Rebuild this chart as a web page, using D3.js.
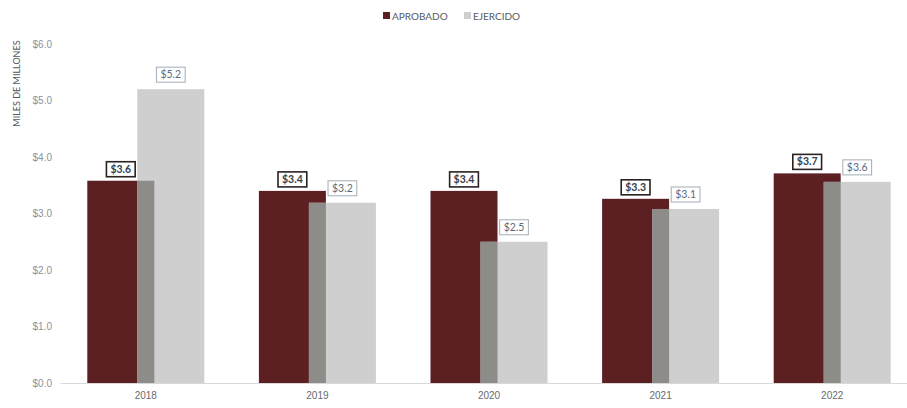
<!DOCTYPE html>
<html>
<head>
<meta charset="utf-8">
<script src="https://cdn.jsdelivr.net/npm/d3@7"></script>
<style>
  html, body { margin: 0; padding: 0; background: #ffffff; }
  svg { display: block; font-family: Lato, "Open Sans", "Liberation Sans", sans-serif; }
</style>
</head>
<body>
<svg id="chart" width="907" height="408"></svg>
<script>
// Presupuesto por año, miles de millones
const years = ["2018", "2019", "2020", "2021", "2022"];
const aprobado = [3.58, 3.40, 3.40, 3.26, 3.71];
const ejercido = [5.20, 3.19, 2.50, 3.08, 3.56];
const yTicks = [0, 1, 2, 3, 4, 5, 6];
const seriesNames = ["APROBADO", "EJERCIDO"];

const colAprobado = "#5c1f22";
const colEjercido = "#cfcfcf";
const colOverlap = "#8e8c89";

const svg = d3.select("#chart");
const W = 907, H = 408;

const x = d3.scaleBand().domain(years).range([60, 918]);
const y = d3.scaleLinear().domain([0, 6]).range([383, 44]);

const barW = 67, shift = 50;
const groupW = barW + shift;
const left = d => x(d) + (x.bandwidth() - groupW) / 2;

const fmt = v => "$" + v.toFixed(1);

// Y axis labels
const yAxis = d3.axisLeft(y).tickValues(yTicks).tickFormat(d => "$" + d.toFixed(1)).tickSize(0).tickPadding(0);
const gy = svg.append("g").attr("transform", "translate(52,0)").call(yAxis);
gy.select(".domain").remove();
gy.selectAll("text").attr("fill", "#8793a0").attr("font-size", 10);

// Axis title
svg.append("text")
  .attr("transform", `translate(20,${y(5.3)}) rotate(-90)`)
  .attr("text-anchor", "middle")
  .attr("font-size", 9)
  .attr("fill", "#505860")
  .text("MILES DE MILLONES");

// Bars
const rows = years.map((yr, i) => ({ yr, a: aprobado[i], e: ejercido[i] }));

svg.append("g").selectAll("rect").data(rows).join("rect")
  .attr("x", d => left(d.yr))
  .attr("y", d => y(d.a))
  .attr("width", barW)
  .attr("height", d => y(0) - y(d.a))
  .attr("fill", colAprobado);

svg.append("g").selectAll("rect").data(rows).join("rect")
  .attr("x", d => left(d.yr) + shift)
  .attr("y", d => y(d.e))
  .attr("width", barW)
  .attr("height", d => y(0) - y(d.e))
  .attr("fill", colEjercido);

// Where the two bars overlap
svg.append("g").selectAll("rect").data(rows).join("rect")
  .attr("x", d => left(d.yr) + shift)
  .attr("y", d => y(Math.min(d.a, d.e)))
  .attr("width", barW - shift)
  .attr("height", d => y(0) - y(Math.min(d.a, d.e)))
  .attr("fill", colOverlap);

// X axis
const xAxis = d3.axisBottom(x).tickSize(0).tickPadding(9);
const gx = svg.append("g").attr("transform", `translate(0,${y(0)})`).call(xAxis);
gx.select(".domain").attr("stroke", "#d9d9d9").attr("stroke-width", 1.2);
gx.selectAll("text").attr("fill", "#666a70").attr("font-size", 10);

// Value labels
function addLabels(key, dx, opts) {
  const g = svg.append("g");
  rows.forEach(d => {
    const v = d[key];
    const cx = left(d.yr) + dx + barW / 2;
    const bottom = y(v) - opts.gap;
    const lg = g.append("g");
    const t = lg.append("text")
      .attr("x", cx)
      .attr("y", bottom - 4)
      .attr("text-anchor", "middle")
      .attr("font-size", 10.5)
      .attr("font-weight", opts.bold ? "bold" : "normal")
      .attr("fill", opts.text)
      .text(fmt(v));
    const bw = t.node().getComputedTextLength() + 8;
    lg.insert("rect", "text")
      .attr("x", cx - bw / 2)
      .attr("y", bottom - 15)
      .attr("width", bw)
      .attr("height", 15)
      .attr("fill", "#ffffff")
      .attr("stroke", opts.stroke)
      .attr("stroke-width", opts.sw);
  });
}
addLabels("a", 0, { gap: 4, bold: true, text: "#34404c", stroke: "#2a2222", sw: 1.6 });
addLabels("e", shift, { gap: 7, bold: false, text: "#5d6b78", stroke: "#aab4bd", sw: 1.1 });

// Legend
const legend = svg.append("g").attr("transform", "translate(383,16)");
const items = [
  { name: seriesNames[0], color: colAprobado, x: 0 },
  { name: seriesNames[1], color: colEjercido, x: 81 }
];
items.forEach(it => {
  legend.append("rect").attr("x", it.x).attr("y", -4).attr("width", 7).attr("height", 7).attr("fill", it.color);
  legend.append("text").attr("x", it.x + 9).attr("y", 3.5)
    .attr("font-size", 10).attr("fill", "#555b62").text(it.name);
});
</script>
</body>
</html>
